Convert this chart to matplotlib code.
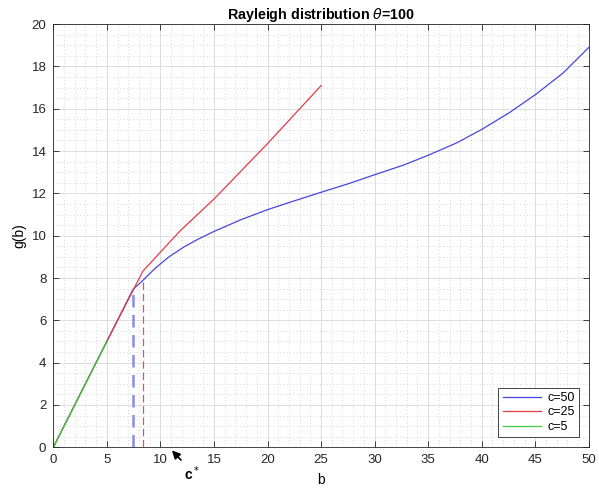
import numpy as np
import matplotlib.pyplot as plt
from matplotlib.ticker import MultipleLocator

plt.rcParams['font.family'] = ['Liberation Sans', 'DejaVu Sans']

# data
b50 = [0, 7.43, 8.37, 9.53, 10.8, 12.17, 13.5, 15, 17.45, 20, 22.4, 25, 27.7, 30,
       32.67, 35, 37.64, 40, 42.6, 45, 47.58, 49.75, 50]
g50 = [0, 7.45, 7.89, 8.47, 9.0, 9.46, 9.83, 10.2, 10.74, 11.23, 11.63, 12.05, 12.48, 12.88,
       13.33, 13.8, 14.38, 15.02, 15.82, 16.66, 17.68, 18.77, 18.9]
b25 = [0, 5, 8.36, 11.82, 15, 20, 25]
g25 = [0, 5, 8.32, 10.22, 11.73, 14.35, 17.09]
b5 = [0, 5]
g5 = [0, 5]
cstar50 = 7.43
cstar50_g = 7.45
cstar25 = 8.36
cstar25_g = 7.85

fig = plt.figure(figsize=(5.99, 4.91), dpi=100)
ax = fig.add_axes([0.089, 0.089, 0.894, 0.862])

ax.plot(b50, g50, color='#4646e0', lw=0.9, label='c=50')
ax.plot(b25, g25, color='#e23c46', lw=0.9, label='c=25')
ax.plot(b5, g5, color='#3ccc3c', lw=0.9, label='c=5')

# dashed markers for c*
ax.plot([cstar50, cstar50], [0, cstar50_g], color='#8c8ce6', lw=1.8, ls=(0, (5, 3)))
ax.plot([cstar25, cstar25], [0, cstar25_g], color='#e05060', lw=0.9, ls=(0, (6, 3)))

ax.set_xlim(0, 50)
ax.set_ylim(0, 20)
ax.xaxis.set_major_locator(MultipleLocator(5))
ax.xaxis.set_minor_locator(MultipleLocator(1))
ax.yaxis.set_major_locator(MultipleLocator(2))
ax.yaxis.set_minor_locator(MultipleLocator(0.5))
ax.grid(which='major', color='#dcdcdc', lw=0.7)
ax.grid(which='minor', color='#c8c8c8', lw=0.6, ls=(0, (1, 3)))
ax.set_axisbelow(True)
ax.tick_params(which='both', direction='in', top=True, right=True, labelsize=9.5, colors='#262626')
ax.tick_params(which='major', length=4, width=0.6, pad=5)
ax.tick_params(which='minor', length=0)
for s in ax.spines.values():
    s.set_color('#262626')
    s.set_linewidth(0.6)

ax.set_title(r'Rayleigh distribution $\theta$=100', fontsize=10.3, fontweight='bold', pad=4)
ax.set_xlabel('b', fontsize=10, labelpad=5)
ax.set_ylabel('g(b)', fontsize=10, labelpad=4)

ax.legend(loc='lower right', fontsize=9, frameon=True, fancybox=False, edgecolor='#262626',
          framealpha=1, handlelength=3.1, borderaxespad=0.8, labelspacing=0.2,
          borderpad=0.35, handletextpad=0.45).get_frame().set_linewidth(0.6)

ax.annotate('', xy=(10.9, -0.05), xytext=(12.1, -0.7),
            arrowprops=dict(arrowstyle='-|>', color='k', lw=1.2, mutation_scale=12),
            annotation_clip=False)
ax.text(12.95, -1.25, r'c$^*$', fontsize=10, fontweight='bold', ha='center', va='center', clip_on=False)

fig.savefig('out.png', dpi=100)
